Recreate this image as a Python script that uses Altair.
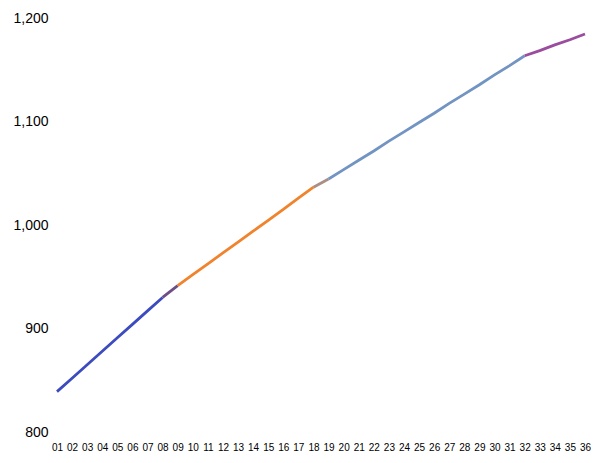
import altair as alt
import pandas as pd

labels = [f"{i:02d}" for i in range(1, 37)]
values = [839, 852, 865, 878, 891, 904, 917, 930,
          941.5, 952, 962.5, 973, 983.5, 994, 1004.5, 1015, 1026, 1036.5,
          1044.5, 1053.5, 1062.5, 1071.5, 1081, 1090, 1099, 1108, 1117.5,
          1126.5, 1135.5, 1145, 1154, 1163.5,
          1168.5, 1174, 1179, 1184.5]

# segments: name, first label index, last label index (inclusive, 1-based)
seg_names = ["A", "AB", "B", "BC", "C", "D"]
seg_start = [1, 8, 9, 18, 19, 32]
seg_end = [8, 9, 18, 19, 32, 36]
seg_colors = ["#3c4bbd", "#6e4e86", "#f0832c", "#a98f86", "#7294c3", "#9a4c9f"]

rows = []
for name, s, e in zip(seg_names, seg_start, seg_end):
    for i in range(s, e + 1):
        rows.append({"label": labels[i - 1], "value": values[i - 1], "seg": name})
df = pd.DataFrame(rows)

chart = alt.Chart(df).mark_line(strokeWidth=2.8).encode(
    x=alt.X("label:O", sort=labels,
            scale=alt.Scale(type="point", padding=0),
            axis=alt.Axis(title=None, labelAngle=0, domain=False, ticks=False, tickSize=0,
                          labelFontSize=10, labelPadding=15, labelBaseline="middle",
                          labelColor="#000000",
                          labelFont="Liberation Sans", grid=False)),
    y=alt.Y("value:Q", scale=alt.Scale(domain=[800, 1200], nice=False, zero=False),
            axis=alt.Axis(title=None, values=[800, 900, 1000, 1100, 1200], format=",.0f",
                          domain=False, ticks=False, tickSize=0, grid=False,
                          labelFontSize=14, labelPadding=9, labelColor="#000000",
                          labelFont="Liberation Sans")),
    color=alt.Color("seg:N", scale=alt.Scale(domain=seg_names, range=seg_colors), legend=None),
    detail="seg:N",
).properties(
    width=528, height=414,
    padding={"left": 4, "top": 3, "right": 0, "bottom": 0},
).configure_view(stroke=None)

chart.save("out.html", embed_options={"renderer": "svg", "actions": False})
